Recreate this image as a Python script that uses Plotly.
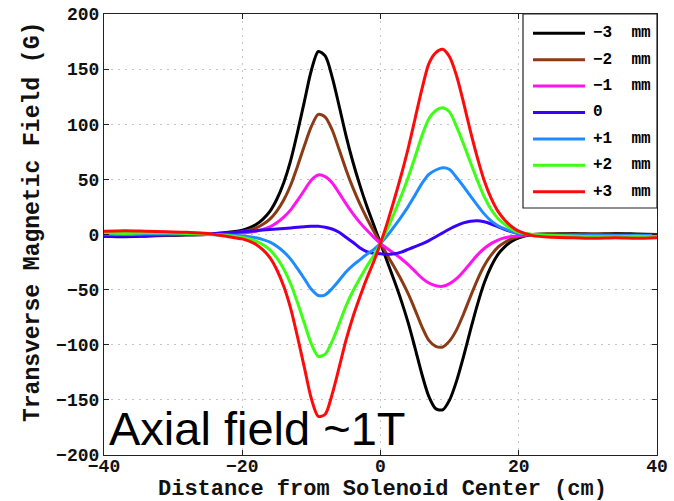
import plotly.graph_objects as go

# Distance from solenoid centre (cm)
distance_cm = [-40, -37, -34, -31, -28, -25, -22,
               -20, -19, -18, -17, -16, -15, -14, -13, -12, -11,
               -10, -9, -8, -7, -6, -5, -4, -3, -2, -1,
               0,
               1, 2, 3, 4, 5, 6, 7, 8, 9, 10,
               11, 12, 13, 14, 15, 16, 17, 18, 19, 20,
               22, 25, 28, 31, 34, 37, 40]

# Transverse field (G) for each transverse offset
field_m3 = [-1.5, -2, -1.5, -1, -0.5, 0, 2,
            4, 6, 9, 14, 21, 32, 47, 67, 93, 121,
            149, 166, 162, 143, 117, 90, 66, 45, 26, 9,
            -8,
            -25, -42, -60, -80, -103, -127, -147, -158, -159, -150,
            -133, -111, -87, -64, -44, -29, -18, -11, -6, -3,
            0, 0.5, 1, 0.5, 1, 0.5, 0]

field_m2 = [-0.5, -1, -0.5, -0.5, 0, 0, 1,
            2.7, 4, 6, 9.3, 14, 21.3, 31.3, 44.7, 62, 80.7,
            98, 109, 106.5, 95, 77.3, 59, 42.5, 28, 15, 3.3,
            -8,
            -19, -29.7, -41, -53.7, -68.3, -83.7, -96, -101.5, -102, -96.5,
            -86.5, -72.3, -56.5, -41.3, -28.3, -18.7, -11.5, -7, -3.8, -2,
            0, 0.5, 0.5, 0.5, 0.5, 0, 0]

field_m1 = [0, -0.5, 0, 0, 0, 0, 0.5,
            1.3, 2, 3, 4.7, 7, 10.7, 15.7, 22.3, 31, 40.3,
            49.5, 54, 52.5, 47, 37.7, 28, 19, 11, 4, -2.3,
            -8,
            -13, -17.3, -22, -27.3, -33.5, -39.5, -44, -46.5, -47, -44.5,
            -40, -33.5, -26, -18.7, -12.7, -8.3, -5, -3, -1.7, -1,
            0, 0, 0, 0, 0, 0, 0]

field_0 = [-1.5, -1.5, -1, -0.5, 0, 0.5, 1.5,
           2.5, 3, 3.5, 4, 4.5, 5, 5.5, 6, 6.5, 7,
           7.5, 7.5, 6.5, 5, 2, -2.5, -7, -12, -15.5, -17,
           -17.5,
           -18, -17.5, -16, -13.5, -11, -8.5, -5.5, -2, 1.5, 5,
           8, 10.5, 12, 12.5, 11.5, 9.5, 7, 4.5, 2.5, 1,
           0, 0, -0.5, -0.5, 0, 0, 0]

field_p1 = [0.5, 0, 0.5, 0.5, 0.5, 0, -0.5,
            -1.3, -2, -3, -4.7, -7, -10.7, -15.7, -22.3, -31, -40.3,
            -49.7, -55.3, -54.7, -49, -41.7, -34, -28, -23, -18, -13.7,
            -8,
            -1, 7.3, 16, 25.3, 35.7, 46.3, 54.5, 58.5, 60.5, 59,
            51.7, 43.7, 35, 26.7, 18.7, 12.3, 8, 5, 2.7, 1,
            0, -0.5, -1, -1, -1, -1, -1]

field_p2 = [1.5, 1, 1.5, 1.5, 1, 0.5, -1,
            -2.7, -4, -6, -9.3, -14, -21.3, -31.3, -44.7, -62, -80.7,
            -99.3, -110.5, -108.5, -97, -81.3, -65, -51.5, -40, -29, -19.3,
            -8,
            5, 19.7, 35, 51.7, 70.3, 89.7, 105, 112.5, 115, 111,
            97.8, 82.3, 65.5, 49.3, 34.3, 22.7, 14.5, 9, 4.8, 2,
            0, -1, -1.5, -2, -2, -1.5, -2]

field_p3 = [3, 3.5, 3, 2.5, 2, 1, -2,
            -4, -6, -9, -14, -21, -32, -47, -67, -93, -121,
            -149, -165, -163, -145, -121, -96, -75, -57, -40, -25,
            -8,
            11, 32, 54, 78, 105, 132, 155, 165, 168, 161,
            144, 120, 94, 70, 49, 33, 21, 13, 7, 3,
            -1, -2.5, -3, -3.5, -3, -3.5, -3]

offset_labels = ["\u22123\u00a0\u00a0mm", "\u22122\u00a0\u00a0mm", "\u22121\u00a0\u00a0mm", "0",
                 "+1\u00a0\u00a0mm", "+2\u00a0\u00a0mm", "+3\u00a0\u00a0mm"]
series = [field_m3, field_m2, field_m1, field_0, field_p1, field_p2, field_p3]
colors = ["#000000", "#8b3a16", "#ff14f0", "#3a00ff", "#1e8cff", "#3cff14", "#ff0a0a"]

x_ticks = [-40, -20, 0, 20, 40]
y_ticks = [-200, -150, -100, -50, 0, 50, 100, 150, 200]

MONO = "Liberation Mono"

fig = go.Figure()
for label, values, color in zip(offset_labels, series, colors):
    fig.add_trace(go.Scatter(
        x=distance_cm, y=values, mode="lines", name=label, showlegend=False,
        line=dict(color=color, width=3, shape="spline", smoothing=0.8),
    ))

# plot-area pixel frame, used to place the legend box and titles
PL, PR, PT, PB = 104, 657, 14, 455


def px_x(p):
    return (p - PL) / (PR - PL)


def px_y(p):
    return (PB - p) / (PB - PT)


shapes = [dict(type="rect", xref="paper", yref="paper",
               x0=px_x(523), x1=1.0, y0=px_y(208), y1=1.0,
               line=dict(color="#222222", width=1.2), fillcolor="white", layer="above")]
annotations = []
row0, row_step = 33.3, 26.4
for i, (label, color) in enumerate(zip(offset_labels, colors)):
    yy = px_y(row0 + i * row_step)
    shapes.append(dict(type="line", xref="paper", yref="paper",
                       x0=px_x(533), x1=px_x(585), y0=yy, y1=yy,
                       line=dict(color=color, width=3), layer="above"))
    annotations.append(dict(xref="paper", yref="paper", x=px_x(591), y=yy,
                            xanchor="left", yanchor="middle", showarrow=False,
                            text=label,
                            font=dict(family=MONO, size=16, weight="bold", color="black")))

annotations.append(dict(xref="paper", yref="paper", x=px_x(107), y=px_y(428),
                        xanchor="left", yanchor="middle", showarrow=False,
                        text="Axial field ~1T",
                        font=dict(family="Liberation Sans", size=47, color="black")))

title_font = dict(family=MONO, size=22, weight="bold", color="#111111")
annotations.append(dict(xref="paper", yref="paper", x=px_x(382), y=px_y(489.5),
                        xanchor="center", yanchor="middle", showarrow=False,
                        text="Distance from Solenoid Center (cm)", font=title_font))
annotations.append(dict(xref="paper", yref="paper", x=px_x(33), y=px_y(222),
                        xanchor="center", yanchor="middle", showarrow=False, textangle=-90,
                        text="Transverse Magnetic Field (G)",
                        font=dict(family=MONO, size=23, weight="bold", color="#111111")))

axis_common = dict(
    showline=True, linecolor="#222222", linewidth=1.2, mirror="ticks",
    ticks="inside", ticklen=5, tickcolor="#222222",
    showgrid=True, gridcolor="#c4c4c4", gridwidth=1, griddash="2px,5px",
    zeroline=False, automargin=False,
    tickfont=dict(family=MONO, size=18, weight="bold", color="#111111"),
)

fig.update_layout(
    width=674, height=501,
    margin=dict(l=PL, r=674 - PR, t=PT, b=501 - PB),
    paper_bgcolor="white", plot_bgcolor="white",
    shapes=shapes, annotations=annotations,
    xaxis=dict(range=[-40, 40], tickvals=x_ticks, ticklabelstandoff=-6, **axis_common),
    yaxis=dict(range=[-200, 200], tickvals=y_ticks, **axis_common),
)

fig.write_html("out.html")
